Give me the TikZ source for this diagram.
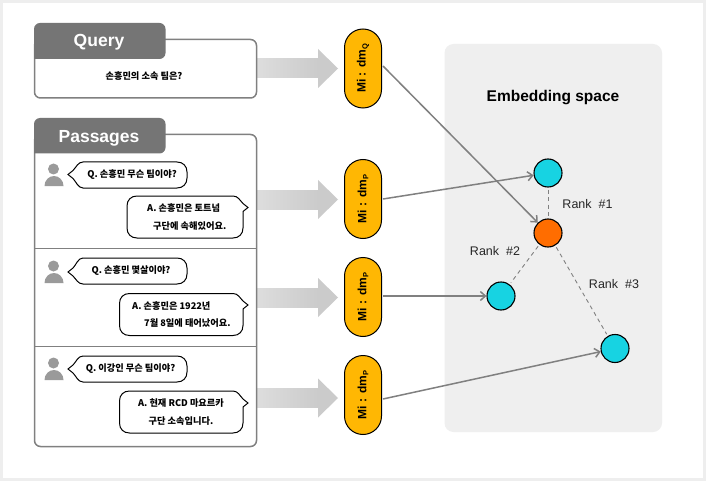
\documentclass[tikz,border=0pt]{standalone}
\usepackage{fontspec}
\setmainfont{Noto Sans CJK KR}
\newfontfamily\titlefont{Liberation Sans}
\usepackage{tikz}
\usetikzlibrary{calc}
\usetikzlibrary{arrows, arrows.meta}
\definecolor{headgray}{HTML}{757575}
\definecolor{linegray}{HTML}{808080}
\definecolor{pillgold}{HTML}{FFB703}
\definecolor{dotcyan}{HTML}{17D3E2}
\definecolor{dotorange}{HTML}{FF6D00}
\definecolor{spacegray}{HTML}{EFEFEF}
\definecolor{framegray}{HTML}{EEEEEE}
\definecolor{persongray}{HTML}{9A9A9A}
\definecolor{arrowlight}{HTML}{DDDDDD}
\definecolor{arrowdark}{HTML}{CBCBCB}
\tikzset{
  panel/.style = {draw=linegray, line width=1.5pt, fill=white, rounded corners=6pt},
  headtext/.style = {text=white, font=\titlefont\fontsize{17.5}{17.5}\selectfont\bfseries, inner sep=0pt},
  pill/.style = {draw=black, line width=1pt, fill=pillgold, rounded corners=18.5pt, minimum width=37pt, minimum height=79pt, inner sep=0pt},
  pilltext/.style = {rotate=90, font=\titlefont\fontsize{12}{12}\selectfont\bfseries, inner sep=0pt},
  dot/.style = {circle, draw=black, line width=1.1pt, minimum size=28pt, inner sep=0pt},
  link/.style = {draw=linegray, line width=1.5pt, -{Straight Barb[length=5pt,width=9pt]}},
  ranklink/.style = {draw=linegray, line width=.9pt, dash pattern=on 4pt off 3.5pt, shorten >=2pt, shorten <=2pt},
  ranktext/.style = {font=\titlefont\fontsize{12.5}{12.5}\selectfont, text=black!85, inner sep=0pt},
  bubble/.style = {draw=black, line width=1pt, fill=white},
  chat/.style = {font=\fontsize{9.2}{10}\selectfont\bfseries, inner sep=0pt}
}
% speech bubble with tail on the left: left, top, right, bottom, tail y
\newcommand{\leftbubble}[5]{
  \draw[bubble] (#1+10,#2) -- (#3-10,#2) .. controls (#3-4,#2) and (#3,#2+4) .. (#3,#2+10)
    -- (#3,#4-10) .. controls (#3,#4-4) and (#3-4,#4) .. (#3-10,#4) -- (#1+10,#4)
    .. controls (#1+5,#4) and (#1+3,#5+7) .. (#1,#5+4) -- (#1-5,#5) -- (#1,#5-4)
    .. controls (#1+3,#5-7) and (#1+5,#2) .. (#1+10,#2) -- cycle;
}
% same, tail on the right
\newcommand{\rightbubble}[5]{
  \draw[bubble] (#1+10,#2) -- (#3-10,#2) .. controls (#3-5,#2) and (#3-3,#5-7) .. (#3,#5-4)
    -- (#3+5,#5) -- (#3,#5+4) -- (#3,#4-10) .. controls (#3,#4-4) and (#3-4,#4) .. (#3-10,#4)
    -- (#1+10,#4) .. controls (#1+4,#4) and (#1,#4-4) .. (#1,#4-10)
    -- (#1,#2+10) .. controls (#1,#2+4) and (#1+4,#2) .. (#1+10,#2) -- cycle;
}
\newcommand{\person}[2]{
  \fill[persongray] (#1-.5,#2) circle (5.5);
  \fill[persongray] (#1-9.5,#2+17) arc (180:360:9.5 and 10) -- cycle;
}
\newcommand{\headtab}[2]{
  \fill[headgray] (34,#2) [rounded corners=6pt] -- (34,#1) -- (165.5,#1) -- (165.5,#2) -- (100,#2) [sharp corners] -- (34,#2) -- cycle;
}
\begin{document}
\begin{tikzpicture}[x=1pt, y=-1pt]
  %frame
  \useasboundingbox (0,0) rectangle (706,481);
  \fill[framegray] (0,0) rectangle (706,481);
  \fill[white] (3,3) rectangle (703,477.5);

  %embedding space
  \fill[spacegray, rounded corners=9pt] (444.5,44) rectangle (662,432);
  \node[font=\titlefont\fontsize{15.5}{15.5}\selectfont\bfseries, inner sep=0pt] (spacetitle) at (553,98) {Embedding space};

  %block arrows
  \foreach \ay in {68.5,199.5,297.5,398}{
    \shade[left color=arrowlight, right color=arrowdark] (257,\ay-9.5) rectangle (318.5,\ay+9.5);
    \fill[arrowdark] (318,\ay-19.5) -- (338,\ay) -- (318,\ay+19.5) -- cycle;
  }

  %query
  \draw[panel] (34.5,39.5) rectangle (256.5,98);
  \headtab{23}{59}
  \node[headtext] (querytitle) at (99,42.5) {Query};
  \node[chat] (querytext) at (144,76) {손흥민의 소속 팀은?};

  %passages
  \draw[panel] (34.5,134.5) rectangle (256.5,446.5);
  \draw[linegray, line width=1.5pt] (34.5,248.5) -- (256.5,248.5);
  \draw[linegray, line width=1.5pt] (34.5,346.5) -- (256.5,346.5);
  \headtab{118}{153.5}
  \node[headtext] (passagetitle) at (99,138.5) {Passages};

  %first pair
  \person{54}{169}
  \leftbubble{73}{162}{187}{188}{174.5}
  \node[chat] (q1) at (132,175) {Q. 손흥민 무슨 팀이야?};
  \rightbubble{127}{196}{243}{238}{207.5}
  \node[chat, anchor=west] (a1) at (147,208) {A. 손흥민은 토트넘};
  \node[chat, anchor=west] (a1b) at (153,226) {구단에 속해있어요.};

  %second pair
  \person{54}{266}
  \leftbubble{73}{258}{187}{284}{272}
  \node[chat] (q2) at (131,271) {Q. 손흥민 몇살이야?};
  \rightbubble{119.5}{293.5}{243}{335.5}{305}
  \node[chat, anchor=west] (a2) at (132,306) {A. 손흥민은 1922년};
  \node[chat, anchor=west] (a2b) at (144,323) {7월 8일에 태어났어요.};

  %third pair
  \person{54}{363}
  \leftbubble{73}{356}{187}{382}{369}
  \node[chat] (q3) at (130.5,369) {Q. 이강인 무슨 팀이야?};
  \rightbubble{119.5}{391}{243}{433}{403}
  \node[chat] (a3) at (181,403) {A. 현재 RCD 마요르카};
  \node[chat] (a3b) at (181,421) {구단 소속입니다.};

  %encoders
  \node[pill] (mq) at (363,68.5) {};
  \node[pill] (mpa) at (363,199) {};
  \node[pill] (mpb) at (363,297) {};
  \node[pill] (mpc) at (363,395) {};
  \node[pilltext] at (mq) {Mi : dm\raisebox{-.3ex}{\fontsize{7.5}{7.5}\selectfont Q}};
  \node[pilltext] at (mpa) {Mi : dm\raisebox{-.3ex}{\fontsize{7.5}{7.5}\selectfont P}};
  \node[pilltext] at (mpb) {Mi : dm\raisebox{-.3ex}{\fontsize{7.5}{7.5}\selectfont P}};
  \node[pilltext] at (mpc) {Mi : dm\raisebox{-.3ex}{\fontsize{7.5}{7.5}\selectfont P}};

  %points
  \node[dot, fill=dotcyan] (pa) at (548,173) {};
  \node[dot, fill=dotorange] (qpt) at (548,233) {};
  \node[dot, fill=dotcyan] (pb) at (501,296) {};
  \node[dot, fill=dotcyan] (pc) at (615,348.5) {};

  %rank lines
  \draw[ranklink] (pa) -- (qpt);
  \draw[ranklink] (qpt) -- (pb);
  \draw[ranklink] (qpt) -- (pc);
  \node[ranktext] (ranka) at (587.5,204.5) {Rank\ \ \#1};
  \node[ranktext] (rankb) at (495,251.5) {Rank\ \ \#2};
  \node[ranktext] (rankc) at (614,284) {Rank\ \ \#3};

  %links
  \coordinate (mqout) at (383,66);
  \coordinate (mpaout) at (383,199);
  \coordinate (mpbout) at (383,296);
  \coordinate (mpcout) at (383,399);
  \draw[link] (mqout) -- (qpt);
  \draw[link] (mpaout) -- (pa);
  \draw[link] (mpbout) -- (pb);
  \draw[link] (mpcout) -- (pc);
\end{tikzpicture}
\end{document}
